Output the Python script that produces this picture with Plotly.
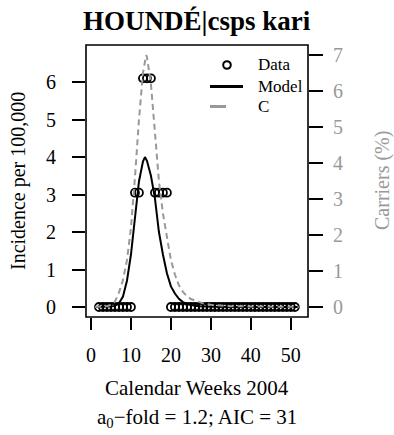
import plotly.graph_objects as go

# ---- data ----
data_weeks = list(range(2, 52))
data_incidence = ([0.0] * 9 + [3.05, 3.05] + [6.1, 6.1, 6.1] + [3.05, 3.05, 3.05, 3.05]
                  + [0.0] * 32)

model_weeks = [1, 2, 3, 4, 5, 6, 7, 8, 9, 10, 11, 12, 13, 13.5, 14, 15, 16, 17, 18, 19, 20,
               21, 22, 23, 24, 25, 26, 27, 28, 30, 35, 40, 45, 52]
model_incidence = [0, 0, 0, 0.005, 0.01, 0.03, 0.1, 0.28, 0.7, 1.4, 2.3, 3.35, 3.88, 4.0, 3.9,
                   3.5, 2.9, 2.0, 1.4, 0.9, 0.55, 0.36, 0.22, 0.13, 0.08, 0.05, 0.03, 0.02,
                   0.01, 0.005, 0, 0, 0, 0]

c_weeks = [1, 2, 3, 4, 5, 6, 7, 8, 9, 10, 11, 12, 13, 13.8, 14, 15, 16, 17, 18, 19, 20, 21,
           22, 23, 24, 25, 26, 27, 28, 30, 35, 40, 45, 52]
c_carriers = [0, 0, 0.01, 0.02, 0.06, 0.15, 0.4, 0.75, 1.3, 2.2, 3.6, 5.2, 6.5, 7.0, 6.95, 6.2,
              4.85, 3.5, 2.6, 1.9, 1.3, 0.9, 0.6, 0.42, 0.3, 0.22, 0.17, 0.14, 0.1, 0.06,
              0.02, 0.01, 0.005, 0]

x_ticks = [0, 10, 20, 30, 40, 50]
y_left_ticks = [0, 1, 2, 3, 4, 5, 6]
y_right_ticks = [0, 1, 2, 3, 4, 5, 6, 7]

title_text = "HOUNDÉ|csps kari"
x_title = "Calendar Weeks 2004"
y_left_title = "Incidence per 100,000"
y_right_title = "Carriers (%)"
sub_text = "a<sub>0</sub>−fold = 1.2; AIC = 31"
legend_names = ["Data", "Model", "C"]

GRAY = "#999999"
FONT = "Liberation Serif"

fig = go.Figure()
fig.add_trace(go.Scatter(x=c_weeks, y=c_carriers, mode="lines", yaxis="y2",
                         line=dict(color=GRAY, width=2, dash="6px,4px"),
                         showlegend=False))
fig.add_trace(go.Scatter(x=model_weeks, y=model_incidence, mode="lines",
                         line=dict(color="black", width=2), showlegend=False))
fig.add_trace(go.Scatter(x=data_weeks, y=data_incidence, mode="markers",
                         marker=dict(symbol="circle-open", size=8, color="black",
                                     line=dict(width=1.8, color="black")),
                         showlegend=False))

L, R, T, B = 86, 86, 45, 118
W, H = 394, 435
pw, ph = W - L - R, H - T - B


def px(x):
    return (x - L) / pw


def py(y):
    return (T + ph - y) / ph


def fnt(size, color="black"):
    return dict(family=FONT, size=size, color=color)


shapes = [
    dict(type="rect", xref="paper", yref="paper", x0=0, x1=1, y0=0, y1=1,
         line=dict(color="black", width=1.6)),
    # legend symbols
    dict(type="circle", xref="paper", yref="paper", xsizemode="pixel", ysizemode="pixel",
         xanchor=px(227), yanchor=py(65), x0=-3.8, x1=3.8, y0=-3.8, y1=3.8,
         line=dict(color="black", width=2)),
    dict(type="line", xref="paper", yref="paper", x0=px(210), x1=px(243),
         y0=py(86.5), y1=py(86.5), line=dict(color="black", width=3)),
    dict(type="line", xref="paper", yref="paper", x0=px(210), x1=px(226),
         y0=py(106.5), y1=py(106.5), line=dict(color=GRAY, width=3)),
]

annotations = [
    dict(text=legend_names[0], x=px(256), y=py(65), xref="paper", yref="paper",
         xanchor="left", yanchor="middle", showarrow=False, font=fnt(17)),
    dict(text=legend_names[1], x=px(256), y=py(86.5), xref="paper", yref="paper",
         xanchor="left", yanchor="middle", showarrow=False, font=fnt(17)),
    dict(text=legend_names[2], x=px(256), y=py(106.5), xref="paper", yref="paper",
         xanchor="left", yanchor="middle", showarrow=False, font=fnt(17)),
    dict(text=x_title, x=0.5, y=py(388), xref="paper", yref="paper", xanchor="center",
         yanchor="middle", showarrow=False, font=fnt(21)),
    dict(text=sub_text, x=0.5, y=py(418), xref="paper", yref="paper", xanchor="center",
         yanchor="middle", showarrow=False, font=fnt(21)),
    dict(text=y_left_title, x=px(18), y=0.5, xref="paper", yref="paper", xanchor="center",
         yanchor="middle", textangle=-90, showarrow=False, font=fnt(20)),
    dict(text=y_right_title, x=px(382), y=0.5, xref="paper", yref="paper", xanchor="center",
         yanchor="middle", textangle=-90, showarrow=False, font=fnt(20, GRAY)),
    dict(text="<b>" + title_text + "</b>", x=0.5, y=py(21), xref="paper", yref="paper",
         xanchor="center", yanchor="middle", showarrow=False, font=fnt(27)),
]

fig.update_layout(
    width=W, height=H,
    margin=dict(l=L, r=R, t=T, b=B, pad=0),
    paper_bgcolor="white", plot_bgcolor="white",
    font=fnt(20),
    showlegend=False,
    shapes=shapes, annotations=annotations,
    xaxis=dict(range=[-1.25, 54.3], tickvals=x_ticks, ticks="outside", ticklen=12,
               tickwidth=1.5, tickcolor="black", showgrid=False, zeroline=False,
               showline=False, ticklabelstandoff=8, tickfont=fnt(20)),
    yaxis=dict(range=[-0.267, 6.99], tickvals=y_left_ticks, ticks="outside", ticklen=13,
               tickwidth=1.5, tickcolor="black", showgrid=False, zeroline=False,
               showline=False, ticklabelstandoff=12, tickfont=fnt(20)),
    yaxis2=dict(range=[-0.28, 7.28], tickvals=y_right_ticks, ticks="outside", ticklen=14,
                tickwidth=1.5, tickcolor="black", overlaying="y", side="right",
                showgrid=False, zeroline=False, showline=False, ticklabelstandoff=6,
                tickfont=fnt(20, GRAY)),
)

fig.write_html("out.html", config={"displayModeBar": False},
               post_script="document.body.style.margin='0';")
